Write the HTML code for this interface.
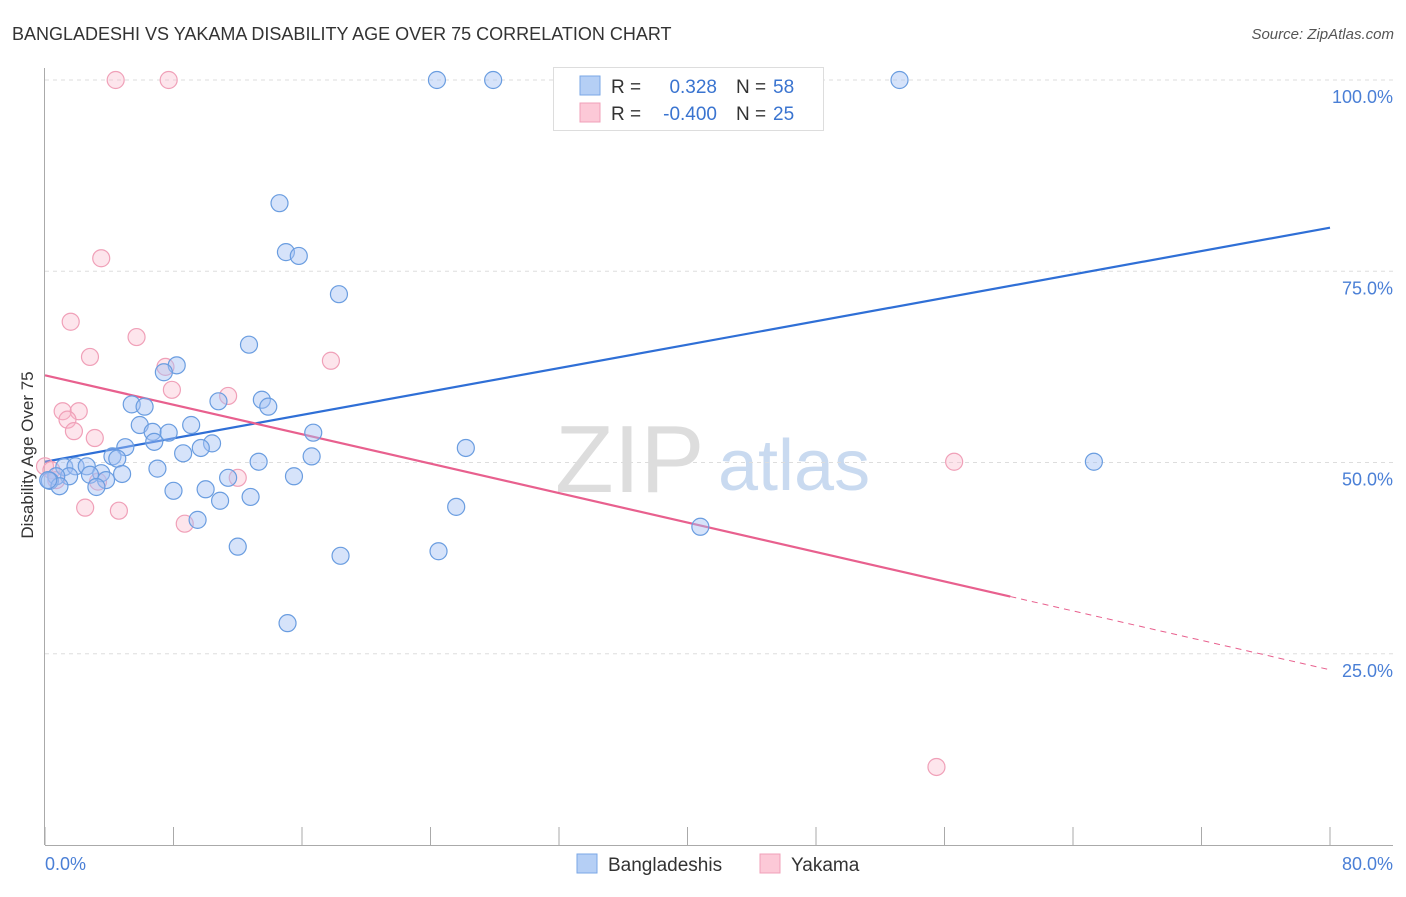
<!DOCTYPE html>
<html><head><meta charset="utf-8"><style>
body{margin:0;background:#fff;font-family:"Liberation Sans",sans-serif;}
svg text{font-family:"Liberation Sans",sans-serif;}
</style></head><body>
<svg id="chart" width="1406" height="892" xmlns="http://www.w3.org/2000/svg">
<text x="12" y="40" font-size="18" fill="#333">BANGLADESHI VS YAKAMA DISABILITY AGE OVER 75 CORRELATION CHART</text>
<text x="1394" y="39" font-size="15" fill="#555" text-anchor="end" font-style="italic">Source: ZipAtlas.com</text>
<text x="33" y="455" font-size="17" fill="#333" text-anchor="middle" transform="rotate(-90 33 455)">Disability Age Over 75</text>
<text x="555" y="492" font-size="96" fill="#ddd" font-family="Liberation Serif">ZIP</text>
<text x="718" y="490" font-size="72" fill="#c9daf0">atlas</text>
<g id="grid"></g><g id="axes"></g><g id="trends"></g><g id="pts"></g>
<g>
<rect x="553.5" y="67.5" width="270" height="63" fill="#fff" stroke="#ddd"/>
<rect x="580" y="76" width="20" height="19" fill="#b5cff5" stroke="#7aa7e6"/>
<rect x="580" y="103" width="20" height="19" fill="#fcc9d7" stroke="#f0a0b8"/>
<text x="611" y="93" font-size="19" fill="#333">R = </text><text x="717" y="93" font-size="19" fill="#3a74d0" text-anchor="end">0.328</text>
<text x="736" y="93" font-size="19" fill="#333">N = </text><text x="773" y="93" font-size="19" fill="#3a74d0">58</text>
<text x="611" y="120" font-size="19" fill="#333">R = </text><text x="717" y="120" font-size="19" fill="#3a74d0" text-anchor="end">-0.400</text>
<text x="736" y="120" font-size="19" fill="#333">N = </text><text x="773" y="120" font-size="19" fill="#3a74d0">25</text>
</g>
<g>
<rect x="577" y="854" width="20" height="19" fill="#b5cff5" stroke="#7aa7e6"/>
<text x="608" y="871" font-size="19" fill="#333">Bangladeshis</text>
<rect x="760" y="854" width="20" height="19" fill="#fcc9d7" stroke="#f0a0b8"/>
<text x="791" y="871" font-size="19" fill="#333">Yakama</text>
</g>
</svg>
<script>
const blueX=[24.4,27.9,53.2,14.6,15.0,15.8,18.3,12.7,8.2,7.4,10.8,13.5,13.9,5.4,6.2,5.9,9.1,6.7,7.7,6.8,16.7,5.0,10.4,9.7,8.6,4.2,4.5,13.3,16.6,26.2,65.3,7.0,1.2,1.9,2.6,3.5,2.8,1.5,0.7,0.3,0.9,4.8,3.8,11.4,15.5,8.0,10.0,3.2,10.9,12.8,25.6,9.5,12.0,18.4,24.5,40.8,15.1,0.2];
const blueY=[100,100,100,83.9,77.5,77.0,72.0,65.4,62.7,61.8,58.0,58.2,57.3,57.6,57.3,54.9,54.9,54.0,53.9,52.7,53.9,52.0,52.5,51.9,51.2,50.8,50.5,50.1,50.8,51.9,50.1,49.2,49.4,49.5,49.5,48.6,48.4,48.2,48.2,47.6,46.9,48.5,47.7,48.0,48.2,46.3,46.5,46.8,45.0,45.5,44.2,42.5,39.0,37.8,38.4,41.6,29.0,47.7];
const pinkX=[4.4,7.7,3.5,1.6,5.7,2.8,17.8,7.5,7.9,11.4,1.1,2.1,1.4,1.8,3.1,0.0,0.4,0.7,3.3,12.0,2.5,4.6,8.7,56.6,55.5];
const pinkY=[100,100,76.7,68.4,66.4,63.8,63.3,62.5,59.5,58.7,56.7,56.7,55.6,54.1,53.2,49.5,49.0,47.7,47.5,48.0,44.1,43.7,42.0,50.1,10.2];
const blueTrend=[50.1,80.7];
const pinkTrend=[61.4,22.9];
const pinkSolidEnd=60.1;
const yTicks=[25,50,75,100];
const xTickVals=[0,8,16,24,32,40,48,56,64,72,80];

const NS="http://www.w3.org/2000/svg";
const X=v=>45+v*1285/80;
const Y=v=>845-v*7.65;
function mk(p,tag,a){const e=document.createElementNS(NS,tag);for(const k in a)e.setAttribute(k,a[k]);document.getElementById(p).appendChild(e);return e;}

yTicks.forEach(t=>{
 const l=mk('grid','line',{x1:45,x2:1393,y1:Y(t),y2:Y(t),stroke:'#ddd','stroke-dasharray':'4,4'});
 
 
 const tx=mk('grid','text',{x:1393,y:Y(t)+23,'font-size':18,fill:'#4a7fd6','text-anchor':'end'});
 tx.textContent=t.toFixed(1)+'%';
 
 
});
const ax=mk('axes','line',{x1:44.5,x2:44.5,y1:68,y2:845,stroke:'#aaa'});


const bx=mk('axes','line',{x1:45,x2:1393,y1:845.5,y2:845.5,stroke:'#aaa'});


xTickVals.forEach(t=>{
 const l=mk('axes','line',{x1:X(t),x2:X(t),y1:827,y2:845,stroke:'#aaa'});
 
 
});
[[0,'start',45],[80,'end',1393]].forEach(([v,anc,px])=>{
 const t=mk('axes','text',{x:px,y:870,'font-size':18,fill:'#4a7fd6','text-anchor':anc});
 t.textContent=v.toFixed(1)+'%';
 
 
});
pinkX.forEach((v,i)=>{
 const c=mk('pts','circle',{cx:X(v),cy:Y(pinkY[i]),r:8.5,fill:'rgba(248,180,200,0.35)',stroke:'#f0a0b8','stroke-width':1.2});
 
 
});
blueX.forEach((v,i)=>{
 const c=mk('pts','circle',{cx:X(v),cy:Y(blueY[i]),r:8.5,fill:'rgba(164,194,244,0.45)',stroke:'#6a9de0','stroke-width':1.2});
 
 
});
const bt=mk('trends','line',{x1:X(0),y1:Y(blueTrend[0]),x2:X(80),y2:Y(blueTrend[1]),stroke:'#2f6fd6','stroke-width':2.2});


const pAt=x=>pinkTrend[0]+(pinkTrend[1]-pinkTrend[0])*x/80;
const pt=mk('trends','line',{x1:X(0),y1:Y(pinkTrend[0]),x2:X(pinkSolidEnd),y2:Y(pAt(pinkSolidEnd)),stroke:'#e8608e','stroke-width':2.2});


const pd=mk('trends','line',{x1:X(pinkSolidEnd),y1:Y(pAt(pinkSolidEnd)),x2:X(80),y2:Y(pinkTrend[1]),stroke:'#e8608e','stroke-width':1,'stroke-dasharray':'6,5'});


</script>
</body></html>
